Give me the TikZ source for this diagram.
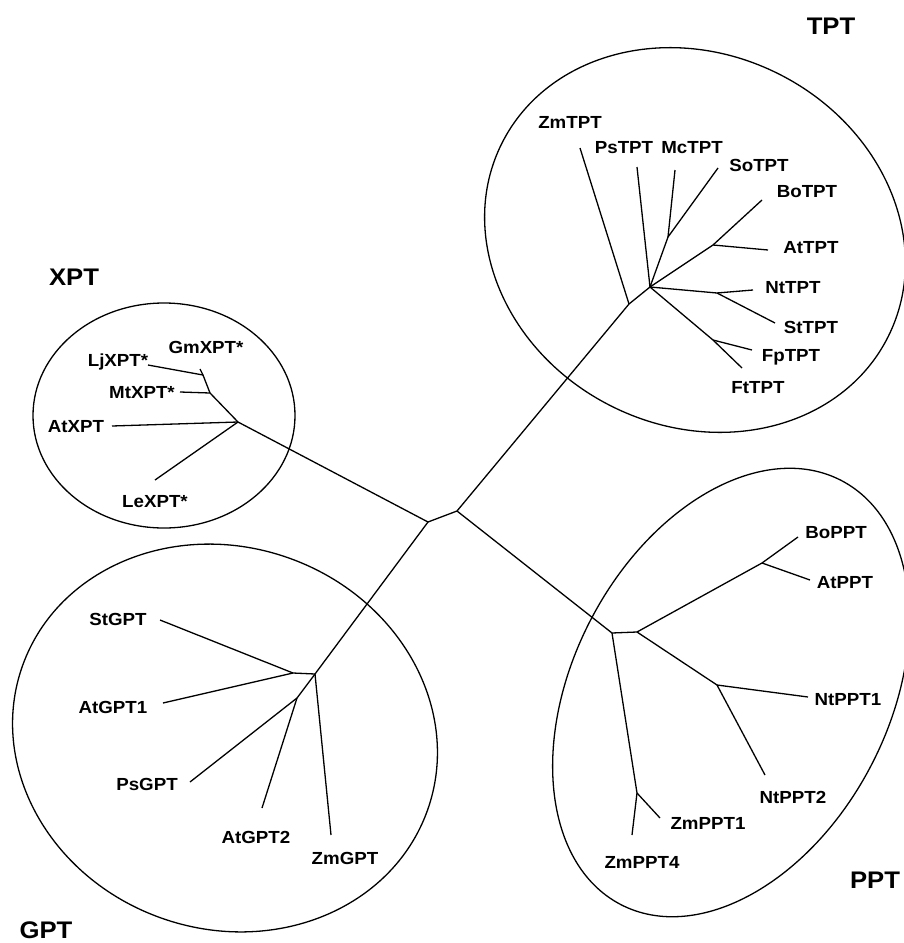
\documentclass[tikz,border=0pt]{standalone}
\usepackage{fontspec}
\setmainfont{Liberation Sans}[FakeStretch=1.07]
\usepackage{tikz}

\begin{document}
\begin{tikzpicture}[x=1pt, y=-1pt, line width=1.3pt,
    leaf/.style = {font=\bfseries\fontsize{17.5}{20}\selectfont, inner sep=0pt},
    group/.style = {font=\bfseries\fontsize{24}{28}\selectfont, inner sep=0pt}]
    \useasboundingbox (0,0) rectangle (903,943);

    % group outlines
    \draw (164,415.5) ellipse [x radius=131, y radius=112.5];
    \draw[rotate around={-26.5:(695,240)}] (695,240) ellipse [x radius=216, y radius=186];
    \draw[rotate around={-19.7:(225,738)}] (225,738) ellipse [x radius=215, y radius=191];
    \draw[rotate around={62.5:(731,692.5)}] (731,692.5) ellipse [x radius=239, y radius=158];

    \node[group] (XPT) at (74,277) {XPT};
    \node[group] (TPT) at (831,26) {TPT};
    \node[group] (GPT) at (46,930) {GPT};
    \node[group] (PPT) at (875,880) {PPT};

    % inner nodes
    \coordinate (c1) at (428,522);
    \coordinate (c2) at (457,511);
    \coordinate (x0) at (238,422);
    \coordinate (x1) at (210,393);
    \coordinate (x2) at (203,375);
    \coordinate (t0) at (629,304);
    \coordinate (t1) at (650,287);
    \coordinate (t2) at (668,237);
    \coordinate (t3) at (713,245);
    \coordinate (t4) at (717,293);
    \coordinate (t5) at (713,340);
    \coordinate (g0) at (315,674);
    \coordinate (g1) at (293,673);
    \coordinate (g2) at (297,698);
    \coordinate (p0) at (612,633);
    \coordinate (p1) at (637,632);
    \coordinate (p2) at (762,563);
    \coordinate (p3) at (717,685);
    \coordinate (p4) at (637,793);

    % leaves
    \node[leaf] (GmXPT) at (206,347) {GmXPT*};
    \node[leaf] (LjXPT) at (118,362) {LjXPT*};
    \node[leaf] (MtXPT) at (142,393) {MtXPT*};
    \node[leaf] (AtXPT) at (76,427) {AtXPT};
    \node[leaf] (LeXPT) at (155,502) {LeXPT*};
    \coordinate (GmXPT-end) at (200,369);
    \coordinate (LjXPT-end) at (148,365);
    \coordinate (MtXPT-end) at (180,392);
    \coordinate (AtXPT-end) at (112,426);
    \coordinate (LeXPT-end) at (155,480);

    \node[leaf] (ZmTPT) at (570,122) {ZmTPT};
    \node[leaf] (PsTPT) at (624,148) {PsTPT};
    \node[leaf] (McTPT) at (692,148) {McTPT};
    \node[leaf] (SoTPT) at (759,165) {SoTPT};
    \node[leaf] (BoTPT) at (807,192) {BoTPT};
    \node[leaf] (AtTPT) at (811,248) {AtTPT};
    \node[leaf] (NtTPT) at (793,288) {NtTPT};
    \node[leaf] (StTPT) at (811,327) {StTPT};
    \node[leaf] (FpTPT) at (791,357) {FpTPT};
    \node[leaf] (FtTPT) at (758,388) {FtTPT};
    \coordinate (ZmTPT-end) at (580,148);
    \coordinate (PsTPT-end) at (637,167);
    \coordinate (McTPT-end) at (675,170);
    \coordinate (SoTPT-end) at (718,168);
    \coordinate (BoTPT-end) at (762,200);
    \coordinate (AtTPT-end) at (768,250);
    \coordinate (NtTPT-end) at (753,290);
    \coordinate (StTPT-end) at (775,323);
    \coordinate (FpTPT-end) at (752,350);
    \coordinate (FtTPT-end) at (742,368);

    \node[leaf] (StGPT) at (118,619) {StGPT};
    \node[leaf] (AtGPT1) at (113,707) {AtGPT1};
    \node[leaf] (PsGPT) at (147,784) {PsGPT};
    \node[leaf] (AtGPT2) at (256,837) {AtGPT2};
    \node[leaf] (ZmGPT) at (345,858) {ZmGPT};
    \coordinate (StGPT-end) at (160,620);
    \coordinate (AtGPT1-end) at (163,703);
    \coordinate (PsGPT-end) at (190,782);
    \coordinate (AtGPT2-end) at (262,808);
    \coordinate (ZmGPT-end) at (331,835);

    \node[leaf] (BoPPT) at (836,533) {BoPPT};
    \node[leaf] (AtPPT) at (845,583) {AtPPT};
    \node[leaf] (NtPPT1) at (848,700) {NtPPT1};
    \node[leaf] (NtPPT2) at (793,797) {NtPPT2};
    \node[leaf] (ZmPPT1) at (708,823) {ZmPPT1};
    \node[leaf] (ZmPPT4) at (642,862) {ZmPPT4};
    \coordinate (BoPPT-end) at (798,537);
    \coordinate (AtPPT-end) at (810,580);
    \coordinate (NtPPT1-end) at (808,697);
    \coordinate (NtPPT2-end) at (765,775);
    \coordinate (ZmPPT1-end) at (660,818);
    \coordinate (ZmPPT4-end) at (632,835);

    % branches
    \draw (c1) -- (c2);
    \draw (c1) -- (x0);
    \draw (c1) -- (g0);
    \draw (c2) -- (t0);
    \draw (c2) -- (p0);

    \draw (x0) -- (x1);
    \draw (x1) -- (x2);
    \draw (x2) -- (GmXPT-end);
    \draw (x2) -- (LjXPT-end);
    \draw (x1) -- (MtXPT-end);
    \draw (x0) -- (AtXPT-end);
    \draw (x0) -- (LeXPT-end);

    \draw (t0) -- (ZmTPT-end);
    \draw (t0) -- (t1);
    \draw (t1) -- (PsTPT-end);
    \draw (t1) -- (t2);
    \draw (t2) -- (McTPT-end);
    \draw (t2) -- (SoTPT-end);
    \draw (t1) -- (t3);
    \draw (t3) -- (BoTPT-end);
    \draw (t3) -- (AtTPT-end);
    \draw (t1) -- (t4);
    \draw (t4) -- (NtTPT-end);
    \draw (t4) -- (StTPT-end);
    \draw (t1) -- (t5);
    \draw (t5) -- (FpTPT-end);
    \draw (t5) -- (FtTPT-end);

    \draw (g0) -- (g1);
    \draw (g1) -- (StGPT-end);
    \draw (g1) -- (AtGPT1-end);
    \draw (g0) -- (g2);
    \draw (g2) -- (PsGPT-end);
    \draw (g2) -- (AtGPT2-end);
    \draw (g0) -- (ZmGPT-end);

    \draw (p0) -- (p1);
    \draw (p1) -- (p2);
    \draw (p2) -- (BoPPT-end);
    \draw (p2) -- (AtPPT-end);
    \draw (p1) -- (p3);
    \draw (p3) -- (NtPPT1-end);
    \draw (p3) -- (NtPPT2-end);
    \draw (p0) -- (p4);
    \draw (p4) -- (ZmPPT1-end);
    \draw (p4) -- (ZmPPT4-end);
\end{tikzpicture}
\end{document}
